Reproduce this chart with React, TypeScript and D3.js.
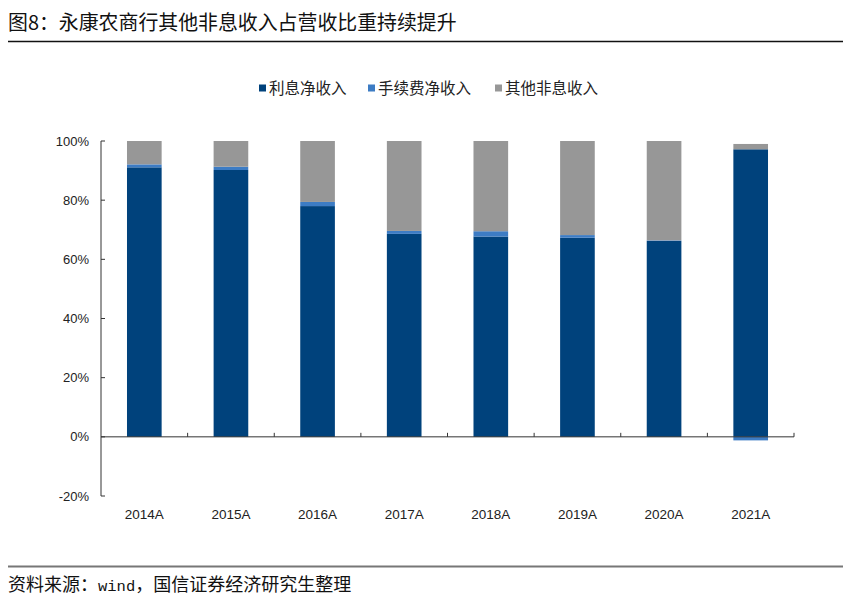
import React from "react";
import * as d3 from "d3";

const categories = ["2014A", "2015A", "2016A", "2017A", "2018A", "2019A", "2020A", "2021A"];
const netInterest = [91.1, 90.2, 78.0, 68.6, 67.7, 67.3, 66.2, 97.2];
const feeIncome = [1.0, 1.1, 1.4, 1.0, 1.8, 0.9, 0.2, -1.2];
const otherNonInterest = [7.9, 8.7, 20.6, 30.4, 30.5, 31.8, 33.6, 1.8];
const yTicks = [-20, 0, 20, 40, 60, 80, 100];
const seriesNames = ["利息净收入", "手续费净收入", "其他非息收入"];
const colors = ["#00427c", "#3d7cc4", "#979797"];

const W = 865;
const H = 615;
const left = 101;
const right = 794;
const top = 141;
const bottom = 496;

export default function App() {
  const x = d3.scaleBand<string>().domain(categories).range([left, right]).paddingInner(0.6).paddingOuter(0.3);
  const xOuter = d3.scaleBand<string>().domain(categories).range([left, right]);
  const y = d3.scaleLinear().domain([-20, 100]).range([bottom, top]);
  const series = [netInterest, feeIncome, otherNonInterest];
  const font = "'Noto Sans CJK SC', 'Liberation Sans', sans-serif";
  const numFont = "'Liberation Sans', Arial, sans-serif";

  const rects: React.ReactNode[] = [];
  categories.forEach((c, i) => {
    let pos = 0;
    let neg = 0;
    series.forEach((s, k) => {
      const v = s[i];
      let y0: number, y1: number;
      if (v >= 0) {
        y0 = pos;
        y1 = pos + v;
        pos = y1;
      } else {
        y0 = neg + v;
        y1 = neg;
        neg = y0;
      }
      rects.push(
        <rect key={c + k} x={x(c)} width={x.bandwidth()} y={y(y1)} height={y(y0) - y(y1)} fill={colors[k]} />
      );
    });
  });

  const legendX = [259, 368, 495];
  const axisColor = "#333";

  return (
    <svg width={W} height={H} style={{ position: "absolute", left: 0, top: 0, background: "#fff" }}>
      <text x={8} y={30} fontSize={19.9} fontFamily={font} fill="#111">图8：永康农商行其他非息收入占营收比重持续提升</text>
      <line x1={8} x2={843} y1={41.5} y2={41.5} stroke="#111" strokeWidth={1.3} />

      {seriesNames.map((n, k) => (
        <g key={n}>
          <rect x={legendX[k]} y={84.5} width={7} height={7} fill={colors[k]} />
          <text x={legendX[k] + 10} y={93.5} fontSize={15.5} fontFamily={font} fill="#222">{n}</text>
        </g>
      ))}

      {rects}

      {/* y axis */}
      <line x1={left} x2={left} y1={top} y2={bottom} stroke={axisColor} strokeWidth={1} />
      {yTicks.map((t) => (
        <g key={t}>
          <line x1={left} x2={left + 4} y1={y(t)} y2={y(t)} stroke={axisColor} />
          <text x={89} y={y(t) + 4.5} textAnchor="end" fontSize={13} fontFamily={numFont} fill="#222">{t}%</text>
        </g>
      ))}

      {/* x axis at zero */}
      <line x1={left} x2={right} y1={y(0)} y2={y(0)} stroke={axisColor} strokeWidth={1} />
      {categories.map((c) => (
        <line key={c} x1={(xOuter(c) as number) + xOuter.bandwidth()} x2={(xOuter(c) as number) + xOuter.bandwidth()} y1={y(0)} y2={y(0) - 4} stroke={axisColor} />
      ))}
      {categories.map((c) => (
        <text key={c} x={(x(c) as number) + x.bandwidth() / 2} y={519} textAnchor="middle" fontSize={13.5} fontFamily={numFont} fill="#222">{c}</text>
      ))}

      <line x1={8} x2={843} y1={566.5} y2={566.5} stroke="#777" strokeWidth={2} />
      <text x={8} y={591} fontSize={18} fontFamily={font} fill="#111">
        资料来源：<tspan fontFamily="'Liberation Mono', 'DejaVu Sans Mono', monospace" fontSize={15.5}>wind</tspan>，国信证券经济研究生整理
      </text>
    </svg>
  );
}
